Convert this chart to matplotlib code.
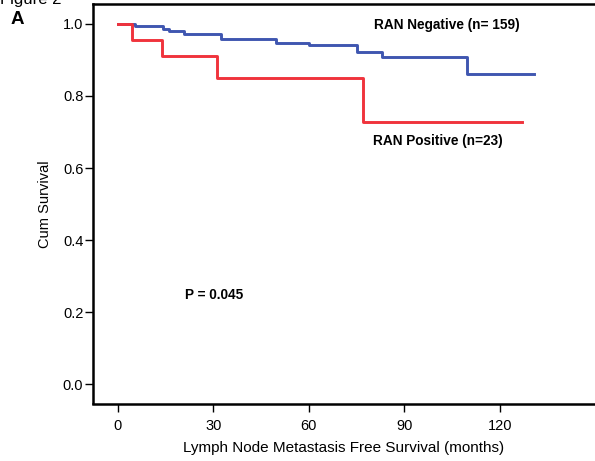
import matplotlib
matplotlib.use("Agg")
import matplotlib.pyplot as plt

plt.rcParams['font.family'] = ['Liberation Sans', 'DejaVu Sans']

# Kaplan-Meier step values
neg_times = [0, 5.4, 14.1, 16.0, 20.9, 32.4, 49.7, 60.0, 75.0, 82.8, 109.7, 130.6]
neg_surv = [1.0, 0.994, 0.987, 0.979, 0.972, 0.957, 0.948, 0.940, 0.923, 0.907, 0.860, 0.860]

pos_times = [0, 4.4, 13.9, 31.3, 77.0, 126.8]
pos_surv = [1.0, 0.955, 0.911, 0.849, 0.729, 0.729]

x_ticks = [0, 30, 60, 90, 120]
y_ticks = [0.0, 0.2, 0.4, 0.6, 0.8, 1.0]

W, H = 595, 461
fig = plt.figure(figsize=(W / 100, H / 100), dpi=100)
ax = fig.add_axes([93 / W, (H - 403.5) / H, (W - 93) / W, (403.5 - 4) / H])

ax.plot(neg_times, neg_surv, drawstyle='steps-post', color='#3f56b0', lw=2.1)
ax.plot(pos_times, pos_surv, drawstyle='steps-post', color='#f0333c', lw=2.1)

ax.set_xlim(-7.75, 149.8)
ax.set_ylim(-0.053, 1.055)
ax.set_xticks(x_ticks)
ax.set_yticks(y_ticks)
ax.set_yticklabels([f"{v:.1f}" for v in y_ticks])
ax.tick_params(axis='both', direction='out', length=6, width=1, labelsize=10.5, colors='black')
ax.tick_params(axis='x', pad=5)
ax.tick_params(axis='y', pad=1)

for side in ['left', 'bottom', 'top']:
    ax.spines[side].set_linewidth(1.8)
ax.spines['right'].set_visible(False)

ax.set_xlabel("Lymph Node Metastasis Free Survival (months)", fontsize=11, labelpad=6)
ax.set_ylabel("Cum Survival", fontsize=10.5, labelpad=8)

ax.text(103.2, 0.997, "RAN Negative (n= 159)", ha='center', va='center', fontsize=9.8, fontweight='bold')
ax.text(100.4, 0.676, "RAN Positive (n=23)", ha='center', va='center', fontsize=9.8, fontweight='bold')
ax.text(30.4, 0.248, "P = 0.045", ha='center', va='center', fontsize=9.8, fontweight='bold')

fig.text(11 / W, 1 - 19.5 / H, "A", fontsize=13.5, fontweight='bold', ha='left', va='center')
fig.text(0, 1 - 4 / H, "Figure 2", fontsize=12, ha='left', va='baseline')

fig.savefig("out.png", dpi=100)
